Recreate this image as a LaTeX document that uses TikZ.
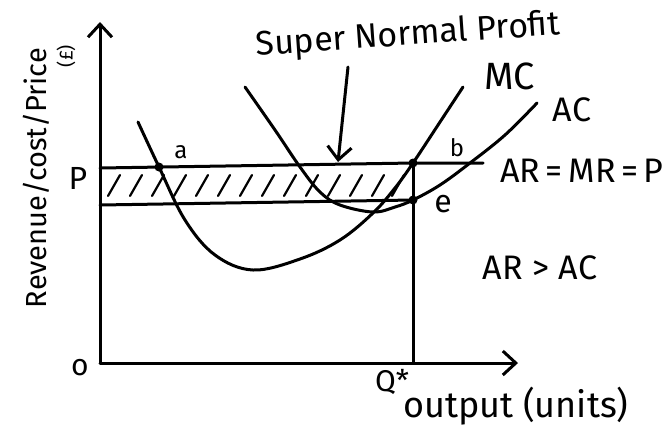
\documentclass[tikz,border=0pt]{standalone}
\usepackage{fontspec}
\setmainfont{Fira Sans}
\usetikzlibrary{arrows.meta}
\begin{document}
\begin{tikzpicture}[x=1pt,y=-1pt,
  ink/.style={line width=3pt, line cap=round, line join=round},
  barb/.style={-{Straight Barb[length=13pt,width=24pt,line width=3pt]}},
  dotpt/.style={circle, fill=black, inner sep=0pt, minimum size=9pt},
  lbl/.style={inner sep=0pt, font=\fontsize{34}{36}\selectfont},
  small/.style={inner sep=0pt, font=\fontsize{24}{26}\selectfont}]
\useasboundingbox (0,0) rectangle (668,432);
% key points
\coordinate (O) at (100,363);
\coordinate (Ytop) at (100,22);
\coordinate (Xend) at (518,363);
\coordinate (PL) at (100,168);
\coordinate (PR) at (483,163);
\coordinate (LL) at (100,205);
\coordinate (Q) at (413,363);
\coordinate (ArrS) at (348,67);
\coordinate (ArrE) at (338,162);
\node[dotpt] (a) at (159,167) {};
\node[dotpt] (b) at (413,163) {};
\node[dotpt] (e) at (413,200) {};
% hatching
\foreach \x in {108,130,152,174,196,218,240,262,284,306,328,350,372,392} {
  \draw[line width=2.2pt, line cap=round] (\x,196) -- ++(12,-21);
}
% axes
\draw[ink, barb] (O) -- (Ytop);
\draw[ink, barb] (O) -- (Xend);
% price lines
\draw[ink] (PL) -- (b.center) -- (PR);
\draw[ink] (LL) -- (e.center);
\draw[ink] (b.center) -- (e.center) -- (Q);
% MC curve
\draw[ink] plot[smooth, tension=0.6] coordinates {(138,122) (159,167) (185,220) (215,255) (253,270) (300,259) (340,240) (373,213) (395,188) (413,163) (440,122) (463,87)};
% AC curve
\draw[ink] plot[smooth, tension=0.6] coordinates {(245,87) (275,130) (300,167) (320,192) (340,205) (373,212) (395,207) (413,200) (440,185) (470,163) (505,135) (537,103)};
% arrow to area
\draw[ink, barb] (ArrS) -- (ArrE);
% labels
\node[small] (la) at (181,152) {a};
\node[small] (lb) at (457,148) {b};
\node[inner sep=0pt, font=\fontsize{32}{34}\selectfont] (le) at (443,204) {e};
\node[lbl, font=\fontsize{38}{40}\selectfont] (lmc) at (510,76) {MC};
\node[lbl] (lac) at (572,110) {AC};
\node[lbl] (lar) at (582,171) {AR\,=\,MR\,=\,P};
\node[lbl] (lgt) at (540,268) {AR\;>\;AC};
\node[lbl, rotate=4] (lsn) at (408,36) {Super Normal Profit};
\node[inner sep=0pt, font=\fontsize{32}{34}\selectfont] (lp) at (78,178) {P};
\node[inner sep=0pt, font=\fontsize{30}{32}\selectfont] (lo) at (80,368) {o};
\node[inner sep=0pt, font=\fontsize{30}{32}\selectfont] (lq) at (392,382) {Q*};
\node[lbl, font=\fontsize{36}{38}\selectfont] (lout) at (516,406) {output (units)};
\node[lbl, font=\fontsize{29}{31}\selectfont, rotate=90] (ly) at (36,178) {Revenue/cost/Price};
\node[inner sep=0pt, font=\fontsize{19}{21}\selectfont, rotate=90] (lpound) at (66,56) {(£)};
\end{tikzpicture}
\end{document}
